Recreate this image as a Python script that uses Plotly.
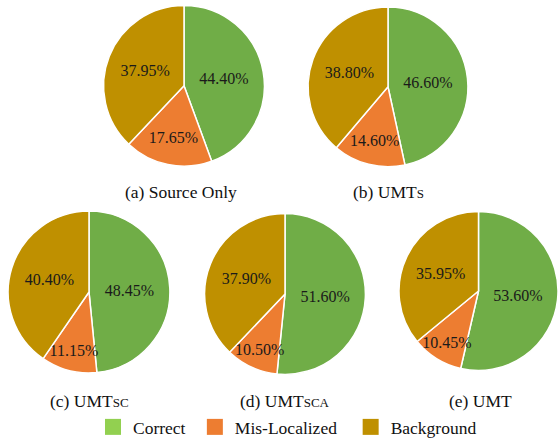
import plotly.graph_objects as go

W, H = 558, 445
FONT = "Liberation Serif"

labels = ["Correct", "Mis-Localized", "Background"]
legend_names = ["Correct&nbsp;", "Mis-Localized&nbsp;&nbsp;", "Background"]
pie_colors = ["#70AD47", "#ED7D31", "#BF9000"]
legend_colors = ["#92D050", "#ED7D31", "#BF9000"]

titles = [
    "(a) Source Only",
    "(b) UMT<span style='font-size:13px'>S</span>",
    "(c) UMT<span style='font-size:13px'>SC</span>",
    "(d) UMT<span style='font-size:13px'>SCA</span>",
    "(e) UMT",
]
source_only = [44.40, 17.65, 37.95]
umt_s = [46.60, 14.60, 38.80]
umt_sc = [48.45, 11.15, 40.40]
umt_sca = [51.60, 10.50, 37.90]
umt = [53.60, 10.45, 35.95]
series = [source_only, umt_s, umt_sc, umt_sca, umt]

# pie boxes in pixels: (left, right, top, bottom)
boxes = [
    (102.5, 265.5, 5.5, 168.5),
    (307, 469, 7, 169),
    (7, 171, 214, 378),
    (203.5, 366.5, 216.5, 379.5),
    (399, 558, 214, 376),
]
title_pos = [(181, 195), (388, 195), (89, 406), (285, 406), (480, 406)]

fig = go.Figure()
for vals, (l, r, t, b) in zip(series, boxes):
    fig.add_trace(go.Pie(
        labels=labels, values=vals, sort=False, direction="clockwise", rotation=0,
        marker=dict(colors=pie_colors, line=dict(color="white", width=1.5)),
        texttemplate="%{value:.2f}%", textposition="inside",
        insidetextorientation="horizontal",
        textfont=dict(family=FONT, size=16, color="#1a1a1a"),
        hoverinfo="label+value", showlegend=False,
        domain=dict(x=[l / W, r / W], y=[1 - b / H, 1 - t / H]),
    ))

for name, c in zip(legend_names, legend_colors):
    fig.add_trace(go.Scatter(
        x=[None], y=[None], mode="markers", name=name,
        marker=dict(symbol="square", size=17, color=c),
    ))

annotations = []
for txt, (x, y) in zip(titles, title_pos):
    annotations.append(dict(
        text=txt, x=x / W, y=1 - y / H, xref="paper", yref="paper",
        showarrow=False, xanchor="center", yanchor="middle",
        font=dict(family=FONT, size=17.5, color="#111111"),
    ))

fig.update_layout(
    width=W, height=H, margin=dict(l=0, r=0, t=0, b=0),
    paper_bgcolor="white", plot_bgcolor="white",
    font=dict(family=FONT),
    uniformtext=dict(minsize=16, mode="show"),
    xaxis=dict(visible=False), yaxis=dict(visible=False),
    annotations=annotations,
    legend=dict(
        orientation="h", x=93 / W, xanchor="left", y=1 - 433 / H, yanchor="middle",
        font=dict(family=FONT, size=17.5, color="#111111"),
        bgcolor="rgba(0,0,0,0)", itemclick=False,
    ),
)

fig.write_html("out.html")
